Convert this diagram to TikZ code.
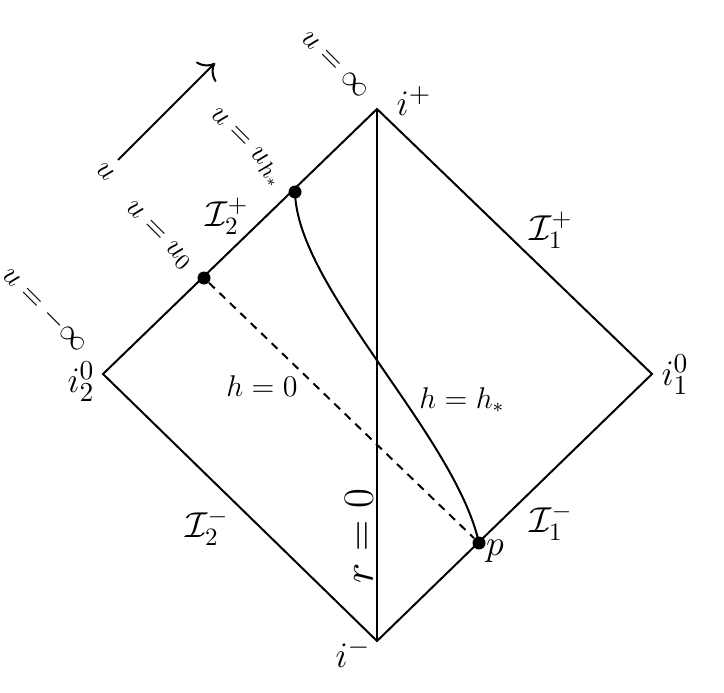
\documentclass[tikz,border=0pt]{standalone}
\usetikzlibrary{arrows.meta}
\begin{document}
\begin{tikzpicture}
  [x=0.4pt, y=-0.4pt,
   edge/.style={line width=0.8pt, black},
   null/.style={line width=0.8pt, black, dash pattern=on 3.2pt off 2.6pt},
   dot/.style={circle, fill=black, inner sep=0pt, minimum size=5.2pt},
   corner/.style={font=\fontsize{15}{17}\selectfont},
   scri/.style={font=\fontsize{14.4}{17}\selectfont},
   ulabel/.style={rotate=-45, font=\fontsize{12.5}{14}\selectfont},
   hlabel/.style={font=\fontsize{11.5}{14}\selectfont}]
  \useasboundingbox (0,0) rectangle (724,692);

  % corners of the diagram
  \coordinate (ip) at (377,109);
  \coordinate (ione) at (652,374);
  \coordinate (im) at (377,641);
  \coordinate (itwo) at (103,374);

  \node[dot] (uh) at (295,192) {};
  \node[dot] (uz) at (204,278) {};
  \node[dot] (p) at (479,543) {};

  \draw[edge] (ip) -- (ione) -- (im) -- (itwo) -- cycle;
  \draw[edge] (ip) -- (im);
  \draw[null] (uz) -- (p);
  \draw[edge] (uh.center) .. controls (297,288) and (455,435) .. (p.center);

  % direction of u
  \coordinate (ua) at (118,160);
  \coordinate (ub) at (215,63);
  \draw[edge, -{To[scale=1.6]}] (ua) -- (ub);
  \node[ulabel] (lu) at (105,172) {$u$};

  % labels on I_2^+
  \node[ulabel] (luinf) at (335,65) {$u=\infty$};
  \node[ulabel] (luh) at (246,148) {$u=u_{h_*}$};
  \node[ulabel] (luz) at (158,236) {$u=u_0$};
  \node[ulabel] (lumin) at (45,310) {$u=-\infty$};

  % corners
  \node[corner] (lip) at (414,101) {$i^+$};
  \node[corner] (lione) at (675,375) {$i^0_1$};
  \node[corner] (lim) at (353,653) {$i^-$};
  \node[corner] (litwo) at (81,382) {$i^0_2$};
  \node[corner] (lp) at (495,551) {$p$};

  % null infinities
  \node[scri] (sp1) at (551,230) {$\mathcal{I}^+_1$};
  \node[scri] (sm1) at (551,522) {$\mathcal{I}^-_1$};
  \node[scri] (sp2) at (227,216) {$\mathcal{I}^+_2$};
  \node[scri] (sm2) at (207,527) {$\mathcal{I}^-_2$};

  \node[hlabel] (lh0) at (262,386) {$h=0$};
  \node[hlabel] (lhs) at (462,400) {$h=h_*$};
  \node[rotate=90, font=\fontsize{16.5}{19}\selectfont] (lr) at (359,536) {$r=0$};
\end{tikzpicture}
\end{document}
